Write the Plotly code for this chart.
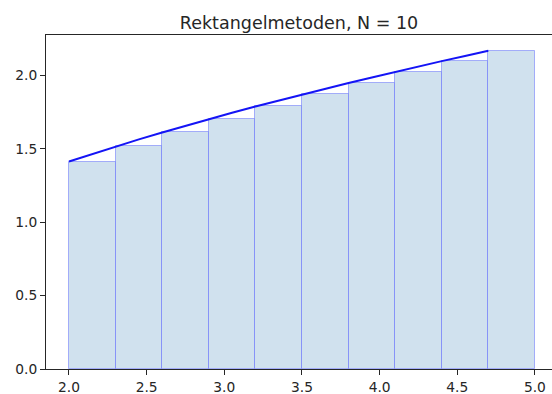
import plotly.graph_objects as go

bar_left = [2.0, 2.3, 2.6, 2.9, 3.2, 3.5, 3.8, 4.1, 4.4, 4.7]
bar_height = [1.414, 1.517, 1.612, 1.703, 1.789, 1.871, 1.949, 2.025, 2.098, 2.168]
bar_width = 0.3

curve_x = [2.0, 2.15, 2.3, 2.45, 2.6, 2.75, 2.9, 3.05, 3.2, 3.35, 3.5, 3.65, 3.8, 3.95, 4.1, 4.25, 4.4, 4.55, 4.7]
curve_y = [1.414, 1.466, 1.517, 1.565, 1.612, 1.658, 1.703, 1.746, 1.789, 1.830, 1.871, 1.910, 1.949, 1.987, 2.025, 2.062, 2.098, 2.133, 2.168]

x_ticks = [2.0, 2.5, 3.0, 3.5, 4.0, 4.5, 5.0]
y_ticks = [0.0, 0.5, 1.0, 1.5, 2.0]

fig = go.Figure()
fig.add_trace(go.Bar(
    x=bar_left, y=bar_height, width=[bar_width] * len(bar_left), offset=0,
    marker=dict(color="rgb(208,225,238)", line=dict(color="rgba(60,70,255,0.4)", width=1)),
    showlegend=False, hoverinfo="skip"))
fig.add_trace(go.Scatter(
    x=curve_x, y=curve_y, mode="lines",
    line=dict(color="rgb(20,20,245)", width=2), showlegend=False))

axis_font = dict(family="DejaVu Sans", size=13.8, color="#262626")
fig.update_layout(
    width=552, height=394,
    margin=dict(l=46, r=0, t=35, b=25),
    plot_bgcolor="white", paper_bgcolor="white",
    bargap=0,
    title=dict(text="Rektangelmetoden, N = 10", x=0.5, xref="paper", xanchor="center",
               y=1, yref="paper", yanchor="bottom", pad=dict(b=6),
               font=dict(family="DejaVu Sans", size=17.5, color="#262626")),
    xaxis=dict(range=[1.852, 5.11], tickvals=x_ticks, ticktext=[f"{v:.1f}" for v in x_ticks],
               showgrid=False, zeroline=False, showline=True, linecolor="#262626", linewidth=1,
               mirror=True, ticks="outside", ticklen=5, tickcolor="#262626", tickfont=axis_font),
    yaxis=dict(range=[0, 2.276], tickvals=y_ticks, ticktext=[f"{v:.1f}" for v in y_ticks],
               showgrid=False, zeroline=False, showline=True, linecolor="#262626", linewidth=1,
               ticks="outside", ticklen=5, tickcolor="#262626", tickfont=axis_font),
)
fig.write_html("out.html")
